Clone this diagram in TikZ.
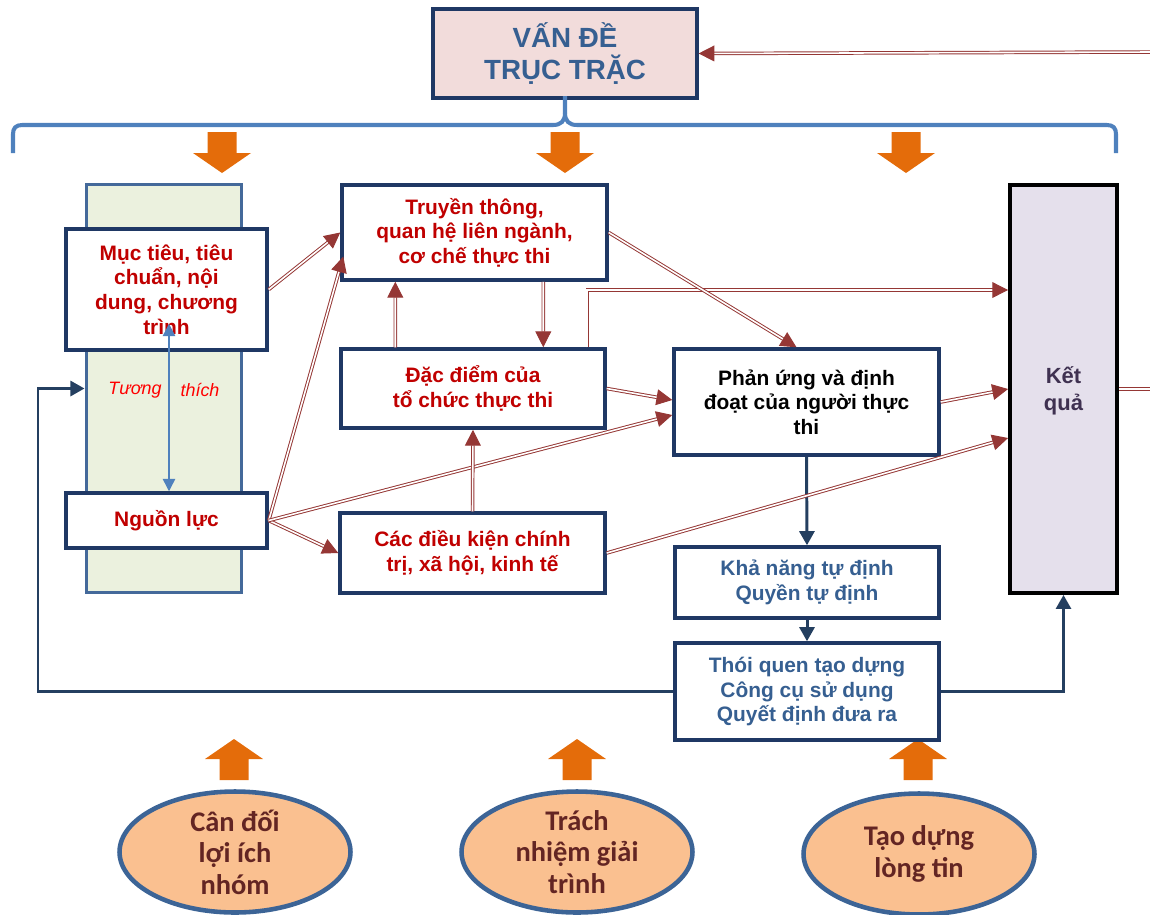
\documentclass[tikz,border=0pt]{standalone}
\usepackage{fontspec}
\setmainfont{Liberation Sans}
\newfontfamily\calfont{Carlito}
\usetikzlibrary{arrows.meta,shapes.geometric,calc}
\definecolor{navy}{HTML}{1F3864}
\definecolor{navyarrow}{HTML}{243F60}
\definecolor{darkred}{HTML}{953735}
\definecolor{txtred}{HTML}{C00000}
\definecolor{txtblue}{HTML}{365F91}
\definecolor{txtpurple}{HTML}{3F3151}
\definecolor{txtbrown}{HTML}{632523}
\definecolor{bracecol}{HTML}{4F81BD}
\definecolor{orangearr}{HTML}{E46C0A}
\definecolor{pinkfill}{HTML}{F2DCDB}
\definecolor{greenfill}{HTML}{EBF1DE}
\definecolor{colborder}{HTML}{44699A}
\definecolor{purplefill}{HTML}{E5E0EC}
\definecolor{peach}{HTML}{FAC090}
\definecolor{ellborder}{HTML}{3C6496}
\tikzset{
  box/.style={draw=navy, line width=2pt, fill=white, align=center, inner sep=0pt,
    font=\bfseries\fontsize{11.9}{14}\selectfont},
  redarrow/.style={draw=darkred, double=white, double distance=0.9pt, line width=0.55pt,
    -{Triangle[length=9pt,width=9pt]}},
  redline/.style={draw=darkred, double=white, double distance=0.9pt, line width=0.55pt},
  navyarrow/.style={draw=navyarrow, line width=1.7pt, -{Triangle[length=8pt,width=8.5pt]}},
  ellnode/.style={ellipse, draw=ellborder, line width=2.6pt, fill=peach, align=center,
    minimum width=4.62cm, minimum height=2.42cm, inner sep=0pt, text=txtbrown,
    font=\calfont\bfseries\fontsize{16.2}{18}\selectfont},
}
\begin{document}
\begin{tikzpicture}[x=0.02cm,y=-0.02cm]
\useasboundingbox (0,0) rectangle (1150,914);

% top problem box
\node[draw=navy, line width=1.8pt, fill=pinkfill, minimum width=5.28cm, minimum height=1.78cm,
  align=center, inner sep=0pt, text=txtblue, font=\bfseries\fontsize{15.8}{18}\selectfont]
  (van) at (565,53.5) {VẤN ĐỀ\\TRỤC TRẶC};

% brace
\draw[bracecol, line width=2.3pt]
  (13,153) -- (13,134) .. controls (13,128) and (16,125) .. (22,125) -- (553,125)
  .. controls (561,125) and (565,121) .. (565,113) -- (565,96);
\draw[bracecol, line width=2.3pt]
  (565,113) .. controls (565,121) and (569,125) .. (577,125) -- (1107,125)
  .. controls (1113,125) and (1116,128) .. (1116,134) -- (1116,153);

% orange block arrows
\foreach \xc in {222,565,906}{
  \fill[orangearr] ({\xc-14.5},132) -- ({\xc+14.5},132) -- ({\xc+14.5},153) -- ({\xc+29},153)
    -- (\xc,173) -- ({\xc-29},153) -- ({\xc-14.5},153) -- cycle;
}
\foreach \xc in {234,577,918}{
  \fill[orangearr] ({\xc-14.5},780) -- ({\xc+14.5},780) -- ({\xc+14.5},759) -- ({\xc+29},759)
    -- (\xc,739) -- ({\xc-29},759) -- ({\xc-14.5},759) -- cycle;
}

% left column
\node[draw=colborder, line width=1.7pt, fill=greenfill, minimum width=3.12cm, minimum height=8.18cm,
  inner sep=0pt] (col) at (164,388.5) {};
\node[box, text=txtred, minimum width=4.02cm, minimum height=2.42cm] (muc) at (166.5,289.5)
  {Mục tiêu, tiêu\\chuẩn, nội\\dung, chương\\trình};
\node[box, text=txtred, minimum width=4.02cm, minimum height=1.10cm] (nguon) at (166.5,520.5)
  {Nguồn lực};
\node[text=red, font=\itshape\fontsize{10.2}{12}\selectfont, inner sep=0pt] (tuong) at (135,390) {Tương};
\node[text=red, font=\itshape\fontsize{10.2}{12}\selectfont, inner sep=0pt] (thich) at (200,390) {thích};

% middle boxes
\node[box, text=txtred, minimum width=5.30cm, minimum height=1.90cm] (tt) at (474.5,232.5)
  {Truyền thông,\\quan hệ liên ngành,\\cơ chế thực thi};
\node[box, text=txtred, minimum width=5.28cm, minimum height=1.58cm] (dd) at (473,388.5)
  {Đặc điểm của\\tổ chức thực thi};
\node[box, text=txtred, minimum width=5.30cm, minimum height=1.60cm] (dk) at (472.5,553)
  {Các điều kiện chính\\trị, xã hội, kinh tế};
\node[box, text=black, minimum width=5.30cm, minimum height=2.12cm] (pu) at (806.5,402)
  {Phản ứng và định\\đoạt của người thực\\thi};
\node[box, text=txtblue, minimum width=5.28cm, minimum height=1.42cm] (kn) at (807,582.5)
  {Khả năng tự định\\Quyền tự định};
\node[box, text=txtblue, minimum width=5.28cm, minimum height=1.94cm] (tq) at (807,691.5)
  {Thói quen tạo dựng\\Công cụ sử dụng\\Quyết định đưa ra};
\node[draw=black, line width=2.2pt, fill=purplefill, minimum width=2.14cm, minimum height=8.16cm,
  inner sep=0pt] (kq) at (1063.5,389) {};
\node[text=txtpurple, align=center, font=\bfseries\fontsize{12.5}{15.5}\selectfont, inner sep=0pt]
  (kqt) at (1063.5,391) {Kết\\quả};

% ellipses
\node[ellnode] (e1) at (235,852) {Cân đối\\lợi ích\\nhóm};
\node[ellnode] (e2) at (577,852) {Trách\\nhiệm giải\\trình};
\node[ellnode] (e3) at (919,854) {Tạo dựng\\lòng tin};

% navy arrows
\coordinate (fbL) at (38,691.5);
\draw[navyarrow] (pu.south) -- (kn.north);
\draw[navyarrow] (kn.south) -- (tq.north);
\draw[navyarrow] (tq.west) -- (fbL) |- (col.west);
\draw[navyarrow] (tq.east) -| (kq.south);

% red arrows
\coordinate (rightout) at (1150,389);
\coordinate (topin) at (1150,52);
\draw[redarrow] (topin) -- (van.east);
\draw[redline] (kq.east) -- (rightout);
\draw[redarrow] (muc.east) -- (tt.west);
\draw[redarrow] (nguon.east) -- ($(tt.west)+(3,24)$);
\draw[redarrow] (nguon.east) -- (dk.west);
\draw[redarrow] (nguon.east) -- ($(pu.west)+(0,13)$);
\draw[redarrow] ($(dd.north west)+(56,0)$) -- ($(tt.south west)+(55,0)$);
\draw[redarrow] ($(tt.south west)+(203,0)$) -- ($(dd.north west)+(204,0)$);
\draw[redarrow] (dk.north) -- (dd.south);
\draw[redarrow] ($(dd.north west)+(248,0)$) |- ($(kq.west)+(0,-99)$);
\draw[redarrow] (tt.east) -- ($(pu.north)+(-10,0)$);
\draw[redarrow] (dd.east) -- ($(pu.west)+(0,-2)$);
\draw[redarrow] (pu.east) -- (kq.west);
\draw[redarrow] (dk.east) -- ($(kq.west)+(0,49)$);

% blue compatibility arrow
\draw[bracecol, line width=0.8pt, {Triangle[length=7pt,width=7pt]}-{Triangle[length=7pt,width=7pt]}]
  ($(muc.south)+(2.5,-28)$) -- ($(nguon.north)+(2.5,0)$);
\end{tikzpicture}
\end{document}
